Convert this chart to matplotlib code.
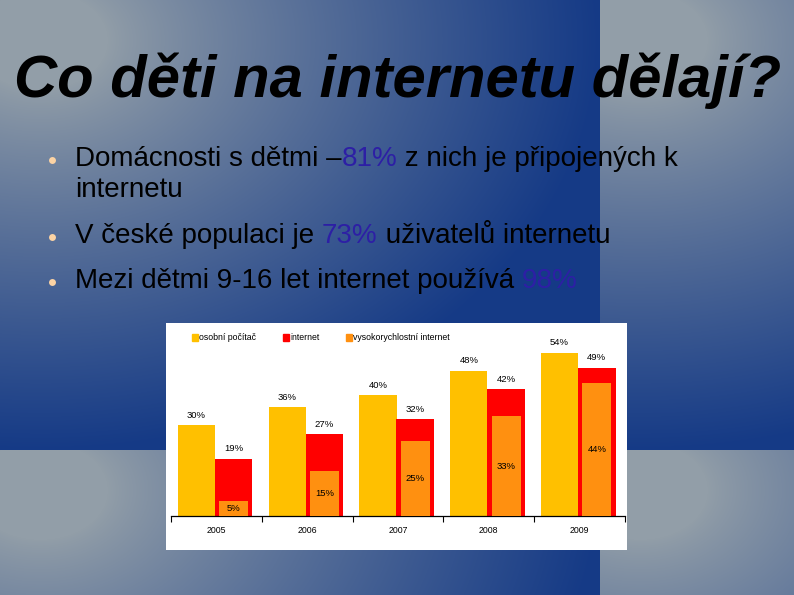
import numpy as np
import matplotlib
matplotlib.use("Agg")
import matplotlib.pyplot as plt
from matplotlib.patches import Rectangle, Patch
from matplotlib import font_manager

# ---------------- data ----------------
years = ["2005", "2006", "2007", "2008", "2009"]
pc = [30, 36, 40, 48, 54]
internet = [19, 27, 32, 42, 49]
broadband = [5, 15, 25, 33, 44]
series_names = ["osobní počítač", "internet", "vysokorychlostní internet"]

title = "Co děti na internetu dělají?"
bullets = [
    [("Domácnosti s dětmi –", False), ("81%", True), (" z nich je připojených k", False)],
    [("V české populaci je ", False), ("73%", True), (" uživatelů internetu", False)],
    [("Mezi dětmi 9-16 let internet používá ", False), ("98%", True)],
]
bullet_cont = "internetu"

W, H = 794, 595
fig = plt.figure(figsize=(W / 100, H / 100), dpi=100)

# ---------------- background (tiled radial gradient) ----------------
bg = fig.add_axes([0, 0, 1, 1])
yy, xx = np.mgrid[0:H, 0:W].astype(float)
xt = np.mod(xx, 600)
yt = np.mod(yy, 450)
d = np.sqrt(((xt - 40) / 560) ** 2 + ((yt - 40) / 410) ** 2)
t = np.clip((d - 0.12) / 0.88, 0, 1) ** 0.85
gray = np.array([0x92, 0x9e, 0xa8]) / 255
blue = np.array([0x15, 0x3a, 0x86]) / 255
img = gray[None, None, :] * (1 - t[..., None]) + blue[None, None, :] * t[..., None]
bg.imshow(img, extent=[0, W, H, 0], aspect="auto", interpolation="bilinear")
bg.set_xlim(0, W)
bg.set_ylim(H, 0)
bg.axis("off")


def fx(x):
    return x / W


def fy(y):
    return 1 - y / H


# ---------------- title ----------------
names = {f.name for f in font_manager.fontManager.ttflist}
if "Liberation Sans Narrow" in names:
    tfam, tsize = ["Liberation Sans Narrow", "DejaVu Sans"], 50
else:
    tfam, tsize = ["Liberation Sans", "DejaVu Sans"], 43
fig.text(fx(398), fy(97), title, ha="center", va="baseline",
         fontsize=tsize, fontweight="bold", style="italic",
         family=tfam, color="black")

# ---------------- bullets ----------------
txt_kw = dict(fontsize=20, family=["Liberation Sans", "DejaVu Sans"])
hl = "#2d1fa5"
baselines = [166, 243, 288]
for line, by in zip(bullets, baselines):
    bg.plot([52], [by - 6], marker="o", ms=5, color="#fcd3a4", mec="none")
    prev = None
    for seg, colored in line:
        c = hl if colored else "black"
        if prev is None:
            prev = fig.text(fx(75), fy(by), seg, ha="left", va="baseline", color=c, **txt_kw)
        else:
            prev = bg.annotate(seg, xy=(1, 0), xycoords=prev, ha="left", va="bottom",
                               color=c, **txt_kw)
fig.text(fx(75), fy(197), bullet_cont, ha="left", va="baseline", color="black", **txt_kw)

# ---------------- chart panel ----------------
fig.patches.append(Rectangle((fx(166), fy(550)), (627 - 166) / W, (550 - 323) / H,
                             transform=fig.transFigure, facecolor="white",
                             edgecolor="none", zorder=1))

ymax = 60
ax_left, ax_right, ax_bottom = 171, 625, 516
ax_top = ax_bottom - ymax * 3.02
ax = fig.add_axes([fx(ax_left), fy(ax_bottom), (ax_right - ax_left) / W,
                   (ax_bottom - ax_top) / H])
ax.set_zorder(2)
ax.patch.set_alpha(0)

c_pc, c_int, c_bb = "#FFC000", "#FF0000", "#FF9010"
x = np.arange(len(years))
ax.bar(x - 0.22, pc, width=0.41, color=c_pc, zorder=2)
ax.bar(x + 0.19, internet, width=0.415, color=c_int, zorder=2)
ax.bar(x + 0.19, broadband, width=0.32, color=c_bb, zorder=3)

lab_kw = dict(fontsize=6.8, family=["Liberation Sans", "DejaVu Sans"], color="black")
for i in range(len(years)):
    ax.annotate(f"{pc[i]}%", xy=(x[i] - 0.22, pc[i]), xytext=(0, 4),
                textcoords="offset points", ha="center", va="bottom", **lab_kw)
    ax.annotate(f"{internet[i]}%", xy=(x[i] + 0.19, internet[i]), xytext=(0, 4),
                textcoords="offset points", ha="center", va="bottom", **lab_kw)
    ax.text(x[i] + 0.19, broadband[i] / 2, f"{broadband[i]}%", ha="center",
            va="center", zorder=4, **lab_kw)

ax.set_xlim(-0.5, len(years) - 0.5)
ax.set_ylim(0, ymax)
for s in ["top", "right", "left"]:
    ax.spines[s].set_visible(False)
ax.spines["bottom"].set_linewidth(0.9)
ax.set_yticks([])
ax.set_xticks(np.arange(-0.5, len(years), 1.0))
ax.set_xticklabels([])
ax.tick_params(axis="x", which="major", direction="out", length=4, width=0.8)
ax.set_xticks(x, minor=True)
ax.set_xticklabels(years, minor=True, fontsize=6.3,
                   family=["Liberation Sans", "DejaVu Sans"])
ax.tick_params(axis="x", which="minor", length=0, pad=7)

handles = [Patch(color=c_pc), Patch(color=c_int), Patch(color=c_bb)]
leg = ax.legend(handles, series_names, ncol=3, loc="center left",
                bbox_to_anchor=(fx(192), fy(338)), bbox_transform=fig.transFigure,
                frameon=False, handlelength=0.7, handleheight=0.7,
                handletextpad=0.15, columnspacing=3.0, borderpad=0, borderaxespad=0,
                prop={"family": ["Liberation Sans", "DejaVu Sans"], "size": 6.3})

fig.savefig("out.png", dpi=100)
